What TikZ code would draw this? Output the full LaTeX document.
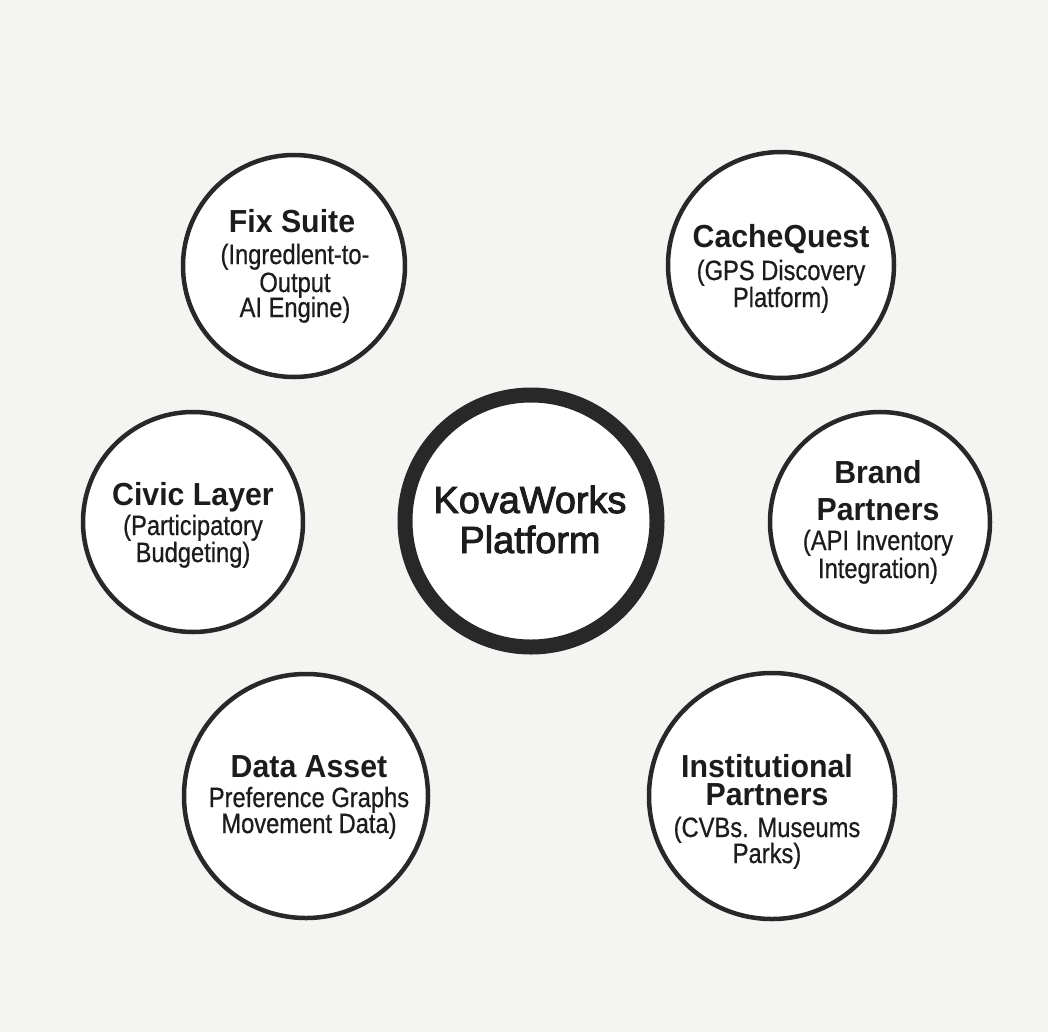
\documentclass[tikz,border=0pt]{standalone}
\usepackage{fontspec}
\setmainfont{Liberation Sans}
\newfontfamily\titlefam[FakeStretch=0.95]{Liberation Sans}
\newfontfamily\subfam[FakeStretch=0.85,FakeBold=0.6]{Liberation Sans}
\newfontfamily\hubfam[FakeBold=2.4]{Liberation Sans}
\definecolor{paper}{RGB}{244,244,242}
\definecolor{ink}{RGB}{40,40,40}
\definecolor{txt}{RGB}{28,28,28}
\begin{document}
\begin{tikzpicture}[x=1bp,y=-1bp,
  ring/.style={circle, draw=ink, line width=4.5bp, fill=white, inner sep=0pt},
  hub/.style={circle, draw=ink, line width=15bp, fill=white, inner sep=0pt},
  ttl/.style={anchor=base, text=txt, inner sep=0pt, font=\titlefam\bfseries\fontsize{32}{32}\selectfont},
  sub/.style={anchor=base, text=txt, inner sep=0pt, font=\subfam\fontsize{28}{28}\selectfont},
  hubtxt/.style={anchor=base, text=txt, inner sep=0pt, font=\hubfam\fontsize{38}{38}\selectfont}]

% page
\fill[paper] (0,0) rectangle (1048,1032);
\useasboundingbox (0,0) rectangle (1048,1032);

% central hub
\node[hub, minimum size=252bp] (hub) at (531,521) {};
\node[hubtxt] (hub-1) at (530,513) {KovaWorks};
\node[hubtxt] (hub-2) at (530,553) {Platform};

% Fix Suite
\node[ring, minimum size=222bp] (fix) at (294,266) {};
\node[ttl] (fix-t) at (292,232) {Fix Suite};
\node[sub] (fix-1) at (295,264) {(Ingredlent-to-};
\node[sub] (fix-2) at (295,292) {Output};
\node[sub] (fix-3) at (295,317) {AI Engine)};

% CacheQuest
\node[ring, minimum size=226bp] (cache) at (781,265) {};
\node[ttl] (cache-t) at (781,247) {CacheQuest};
\node[sub] (cache-1) at (781,280) {(GPS Discovery};
\node[sub] (cache-2) at (781,307) {Platform)};

% Civic Layer
\node[ring, minimum size=220bp] (civic) at (193,522) {};
\node[ttl] (civic-t) at (193,505) {Civic Layer};
\node[sub] (civic-1) at (193,535) {(Participatory};
\node[sub] (civic-2) at (193,562) {Budgeting)};

% Brand Partners
\node[ring, minimum size=220bp] (brand) at (880,522) {};
\node[ttl] (brand-t1) at (878,483) {Brand};
\node[ttl] (brand-t2) at (878,520) {Partners};
\node[sub] (brand-1) at (878,550) {(API Inventory};
\node[sub] (brand-2) at (878,578) {Integration)};

% Data Asset
\node[ring, minimum size=244bp] (data) at (306,796) {};
\node[ttl] (data-t) at (309,777) {Data Asset};
\node[sub] (data-1) at (309,807) {Preference Graphs};
\node[sub] (data-2) at (309,833) {Movement Data)};

% Institutional Partners
\node[ring, minimum size=246bp] (inst) at (772,796) {};
\node[ttl] (inst-t1) at (767,777) {Institutional};
\node[ttl] (inst-t2) at (767,805) {Partners};
\node[sub] (inst-1) at (767,837) {(CVBs. Museums};
\node[sub] (inst-2) at (767,863) {Parks)};
\end{tikzpicture}
\end{document}
